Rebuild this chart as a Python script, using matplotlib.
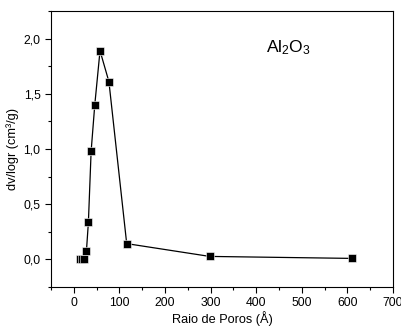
import matplotlib
matplotlib.use("Agg")
from matplotlib import pyplot as plt
from matplotlib.ticker import MultipleLocator, FuncFormatter

# pore radius (Å) and dv/logr (cm3/g)
raio = [14, 18, 22, 27.7, 32, 38, 46, 57.5, 77, 116, 298, 610]
dvlogr = [0.0, 0.0, 0.005, 0.076, 0.336, 0.98, 1.40, 1.89, 1.61, 0.143, 0.027, 0.009]

plt.rcParams["font.family"] = ["Liberation Sans", "DejaVu Sans"]
plt.rcParams["mathtext.fontset"] = "custom"
plt.rcParams["mathtext.rm"] = "Liberation Sans"
plt.rcParams["mathtext.it"] = "Liberation Sans:italic"
fig = plt.figure(figsize=(4.02, 3.27), dpi=100)
ax = fig.add_axes([51/402, 40/327, 342/402, 276/327])

ax.plot(raio, dvlogr, color="black", lw=0.9, marker="s", markersize=5.5,
        markerfacecolor="black", markeredgecolor="white", markeredgewidth=0.4)

ax.set_xlim(-50, 700)
ax.set_ylim(-0.25, 2.25)
ax.xaxis.set_major_locator(MultipleLocator(100))
ax.xaxis.set_minor_locator(MultipleLocator(50))
ax.yaxis.set_major_locator(MultipleLocator(0.5))
ax.yaxis.set_minor_locator(MultipleLocator(0.25))
ax.yaxis.set_major_formatter(FuncFormatter(lambda v, p: f"{v:.1f}".replace(".", ",")))
ax.tick_params(which="major", direction="out", length=4, width=0.8, labelsize=8.8,
               top=False, right=False)
ax.tick_params(which="minor", direction="out", length=2.5, width=0.8,
               top=False, right=False)
for s in ax.spines.values():
    s.set_linewidth(0.8)

ax.set_xlabel("Raio de Poros (Å)", fontsize=9.2, labelpad=1.5)
ax.set_ylabel("dv/logr (cm³/g)", fontsize=9.2, labelpad=3)
ax.text(470, 1.92, r"Al$_2$O$_3$", fontsize=12.5, ha="center", va="center")

plt.savefig("out.png", dpi=100)
